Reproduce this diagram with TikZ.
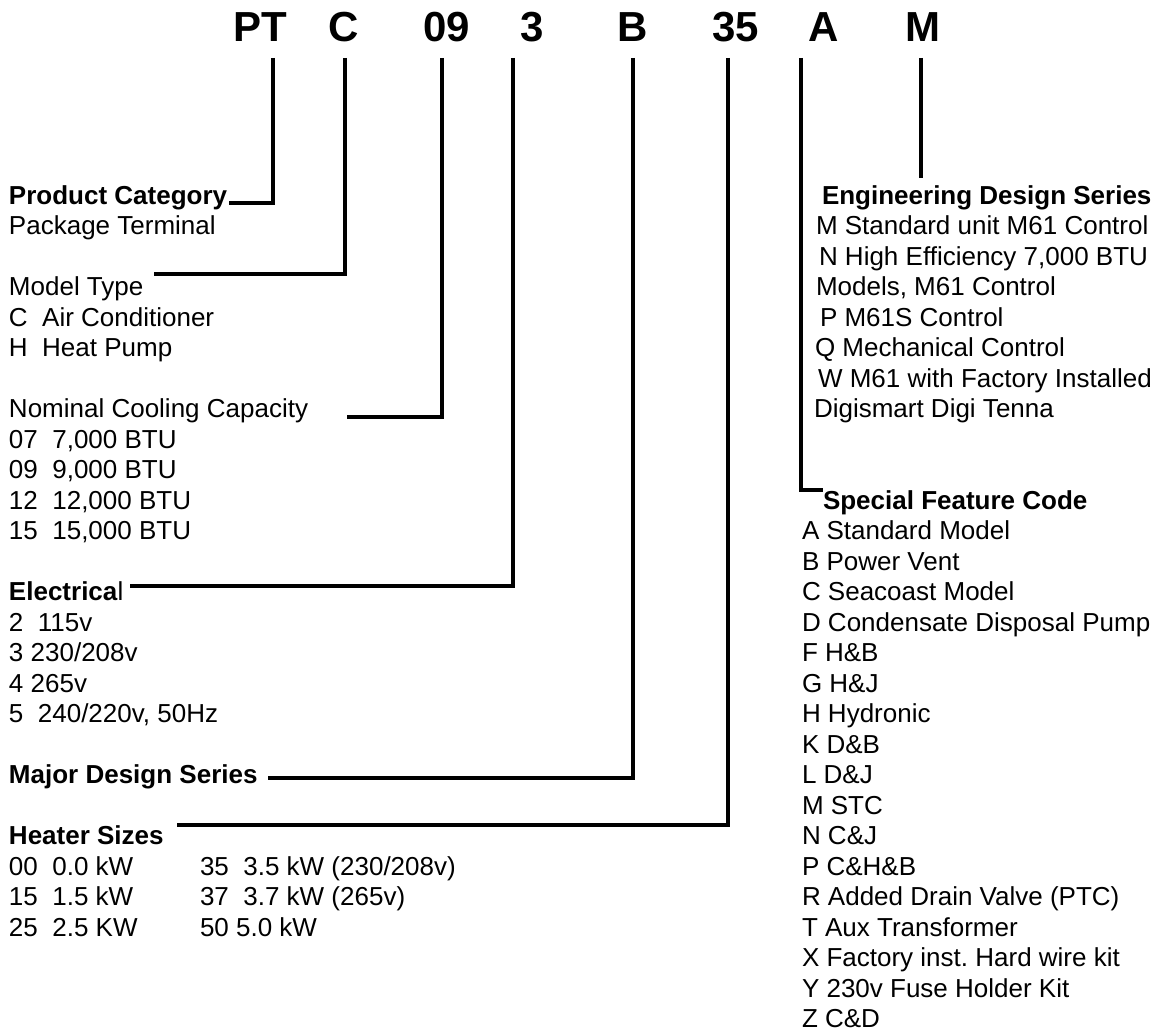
\documentclass[tikz,border=0pt]{standalone}
\usepackage{fontspec}
\setmainfont{Liberation Sans}
\frenchspacing
\begin{document}
\begin{tikzpicture}[x=1pt,y=-1pt,
  lbl/.style={anchor=base west, inner sep=0pt, outer sep=0pt, font=\fontsize{26}{30.5}\selectfont},
  hdr/.style={lbl, font=\fontsize{26}{30.5}\selectfont\bfseries},
  code/.style={anchor=base west, inner sep=0pt, outer sep=0pt, font=\fontsize{42}{50}\selectfont\bfseries},
  lead/.style={line width=3.6pt, line join=miter, line cap=butt}]
\useasboundingbox (0,0) rectangle (1167,1033);
% code letters
\node[code] (tPT) at (233,41.7) {PT};
\node[code] (tC)  at (328,41.7) {C};
\node[code] (t09) at (423,41.7) {09};
\node[code] (t3)  at (520,41.7) {3};
\node[code] (tB)  at (617,41.7) {B};
\node[code] (t35) at (712,41.7) {35};
\node[code] (tA)  at (808,41.7) {A};
\node[code] (tM)  at (905,41.7) {M};
% left column
\node[hdr] (pc)   at (9,204)   {Product Category};
\node[lbl] (pc1)  at (9,234.5) {Package Terminal};
\node[lbl] (mt)   at (9,295.5) {Model Type};
\node[lbl] (mt1)  at (9,326)   {C\ \ Air Conditioner};
\node[lbl] (mt2)  at (9,356.5) {H\ \ Heat Pump};
\node[lbl] (nc)   at (9,417.5) {Nominal Cooling Capacity};
\node[lbl] (nc1)  at (9,448)   {07\ \ 7,000 BTU};
\node[lbl] (nc2)  at (9,478.5) {09\ \ 9,000 BTU};
\node[lbl] (nc3)  at (9,509)   {12\ \ 12,000 BTU};
\node[lbl] (nc4)  at (9,539.5) {15\ \ 15,000 BTU};
\node[lbl] (el)   at (9,600.5) {\textbf{Electrica}l};
\node[lbl] (el1)  at (9,631)   {2\ \ 115v};
\node[lbl] (el2)  at (9,661.5) {3 230/208v};
\node[lbl] (el3)  at (9,692)   {4 265v};
\node[lbl] (el4)  at (9,722.5) {5\ \ 240/220v, 50Hz};
\node[hdr] (md)   at (9,783.5) {Major Design Series};
\node[hdr] (hs)   at (9,844.5) {Heater Sizes};
\node[lbl] (hs1)  at (9,875)   {00\ \ 0.0 kW};
\node[lbl] (hs2)  at (9,905.5) {15\ \ 1.5 kW};
\node[lbl] (hs3)  at (9,936)   {25\ \ 2.5 KW};
\node[lbl] (hs4)  at (200,875)   {35\ \ 3.5 kW (230/208v)};
\node[lbl] (hs5)  at (200,905.5) {37\ \ 3.7 kW (265v)};
\node[lbl] (hs6)  at (200,936)   {50 5.0 kW};
% right column: engineering design series
\node[hdr] (ed)   at (822,204)   {Engineering Design Series};
\node[lbl] (ed1)  at (816,234.5) {M Standard unit M61 Control};
\node[lbl] (ed2)  at (819,265)   {N High Efficiency 7,000 BTU};
\node[lbl] (ed3)  at (816,295.5) {Models, M61 Control};
\node[lbl] (ed4)  at (820,326)   {P M61S Control};
\node[lbl] (ed5)  at (815,356.5) {Q Mechanical Control};
\node[lbl] (ed6)  at (818,387)   {W M61 with Factory Installed};
\node[lbl] (ed7)  at (814,417.5) {Digismart Digi Tenna};
% right column: special feature code
\node[hdr] (sf)   at (823,509)    {Special Feature Code};
\node[lbl] (sfA)  at (802,539.5)  {A Standard Model};
\node[lbl] (sfB)  at (802,570)    {B Power Vent};
\node[lbl] (sfC)  at (802,600.5)  {C Seacoast Model};
\node[lbl] (sfD)  at (802,631)    {D Condensate Disposal Pump};
\node[lbl] (sfF)  at (802,661.5)  {F H\&B};
\node[lbl] (sfG)  at (802,692)    {G H\&J};
\node[lbl] (sfH)  at (802,722.5)  {H Hydronic};
\node[lbl] (sfK)  at (802,753)    {K D\&B};
\node[lbl] (sfL)  at (802,783.5)  {L D\&J};
\node[lbl] (sfM)  at (802,814)    {M STC};
\node[lbl] (sfN)  at (802,844.5)  {N C\&J};
\node[lbl] (sfP)  at (802,875)    {P C\&H\&B};
\node[lbl] (sfR)  at (802,905.5)  {R Added Drain Valve (PTC)};
\node[lbl] (sfT)  at (802,936)    {T Aux Transformer};
\node[lbl] (sfX)  at (802,966.5)  {X Factory inst. Hard wire kit};
\node[lbl] (sfY)  at (802,997)    {Y 230v Fuse Holder Kit};
\node[lbl] (sfZ)  at (802,1027.5) {Z C\&D};
% connector end points
\coordinate (aPT) at (273,58);  \coordinate (bPT) at (229,203);
\coordinate (aC)  at (345,58);  \coordinate (bC)  at (154,274);
\coordinate (a09) at (442,58);  \coordinate (b09) at (347,417);
\coordinate (a3)  at (513,58);  \coordinate (b3)  at (130,586);
\coordinate (aB)  at (633,58);  \coordinate (bB)  at (268,778);
\coordinate (a35) at (728,58);  \coordinate (b35) at (177,825);
\coordinate (aA)  at (801,58);  \coordinate (bA)  at (823,490);
\coordinate (aM)  at (921,58);  \coordinate (bM)  at (921,178);
% connectors
\draw[lead] (aPT) |- (bPT);
\draw[lead] (aC)  |- (bC);
\draw[lead] (a09) |- (b09);
\draw[lead] (a3)  |- (b3);
\draw[lead] (aB)  |- (bB);
\draw[lead] (a35) |- (b35);
\draw[lead] (aA)  |- (bA);
\draw[lead] (aM)  -- (bM);
\end{tikzpicture}
\end{document}
